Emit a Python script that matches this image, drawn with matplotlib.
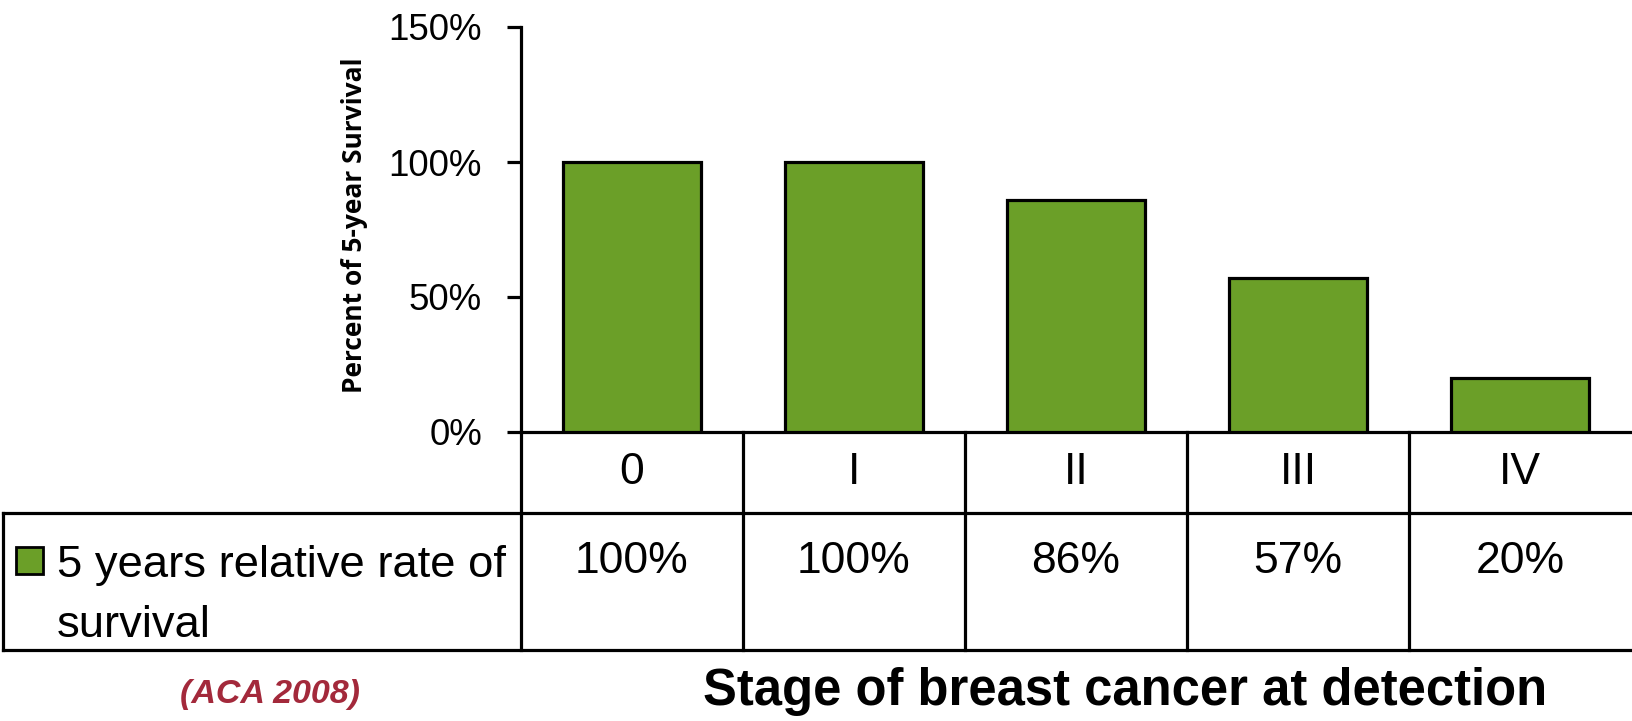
import matplotlib
matplotlib.use('Agg')
import matplotlib.pyplot as plt
from matplotlib.patches import Rectangle

# ---- data ----
stages = ['0', 'I', 'II', 'III', 'IV']
survival = [100, 100, 86, 57, 20]
series_label = ['5 years relative rate of', 'survival']
yticks = [0, 50, 100, 150]
ylabel = 'Percent of 5-year Survival'
xtitle = 'Stage of breast cancer at detection'
source = '(ACA 2008)'

plt.rcParams['font.family'] = ['Liberation Sans', 'DejaVu Sans']

W, H = 1633, 721
DPI = 100
fig = plt.figure(figsize=(W / DPI, H / DPI), dpi=DPI)


def fx(px):
    return px / W


def fy(py):
    return 1 - py / H


ax_l, ax_r, ax_t, ax_b = 521, 1631, 27, 432
ax = fig.add_axes([fx(ax_l), fy(ax_b), (ax_r - ax_l) / W, (ax_b - ax_t) / H])


def axx(px):
    return (px - ax_l) / (ax_r - ax_l)


def axy(py):
    return (ax_b - py) / (ax_b - ax_t)


green = '#6B9F28'
lw = 2.3
xs = list(range(len(stages)))
ax.bar(xs, survival, width=0.62, color=green, edgecolor='black', linewidth=lw, zorder=3)
ax.set_xlim(-0.5, len(stages) - 0.5)
ax.set_ylim(0, 150)
ax.set_yticks(yticks)
ax.set_yticklabels([f'{v}%' for v in yticks])
ax.tick_params(axis='y', length=10, width=lw, pad=18, labelsize=26.5)
ax.set_xticks([])
for s in ['top', 'right']:
    ax.spines[s].set_visible(False)
for s in ['left', 'bottom']:
    ax.spines[s].set_linewidth(lw)
    ax.spines[s].set_capstyle('projecting')

# ---- data table ----
row1_bot = axy(513)
row2_bot = axy(650)
kw = dict(color='black', lw=lw, clip_on=False, solid_capstyle='projecting')
ax.plot([axx(3), 1], [row1_bot, row1_bot], transform=ax.transAxes, **kw)
ax.plot([axx(3), 1], [row2_bot, row2_bot], transform=ax.transAxes, **kw)
ax.plot([axx(3), axx(3)], [row1_bot, row2_bot], transform=ax.transAxes, **kw)
ax.plot([0, 0], [0, row2_bot], transform=ax.transAxes, **kw)
xt = ax.get_xaxis_transform()
for i in range(len(stages) - 1):
    ax.plot([i + 0.5, i + 0.5], [0, row2_bot], transform=xt, **kw)

for i, (st, v) in enumerate(zip(stages, survival)):
    ax.text(i, axy(484), st, transform=xt, ha='center', va='baseline', fontsize=32)
    ax.text(i, axy(573), f'{v}%', transform=xt, ha='center', va='baseline', fontsize=32)

# legend key
fig.add_artist(Rectangle((fx(16), fy(574)), 27 / W, 27 / H, transform=fig.transFigure,
                         facecolor=green, edgecolor='black', lw=2))
fig.text(fx(57), fy(577), series_label[0], ha='left', va='baseline', fontsize=32.7)
fig.text(fx(57), fy(637), series_label[1], ha='left', va='baseline', fontsize=32.7)

# labels
fig.text(fx(355), fy(225), ylabel, rotation=90, ha='center', va='center',
         fontsize=19, fontweight='bold', family=['Open Sans', 'DejaVu Sans'])
fig.text(fx(1125), fy(705), xtitle, ha='center', va='baseline', fontsize=36.5, fontweight='bold')
fig.text(fx(270), fy(703), source, ha='center', va='baseline', fontsize=24.5,
         fontweight='bold', fontstyle='italic', color='#A3293B')

fig.savefig('out.png', dpi=DPI)
